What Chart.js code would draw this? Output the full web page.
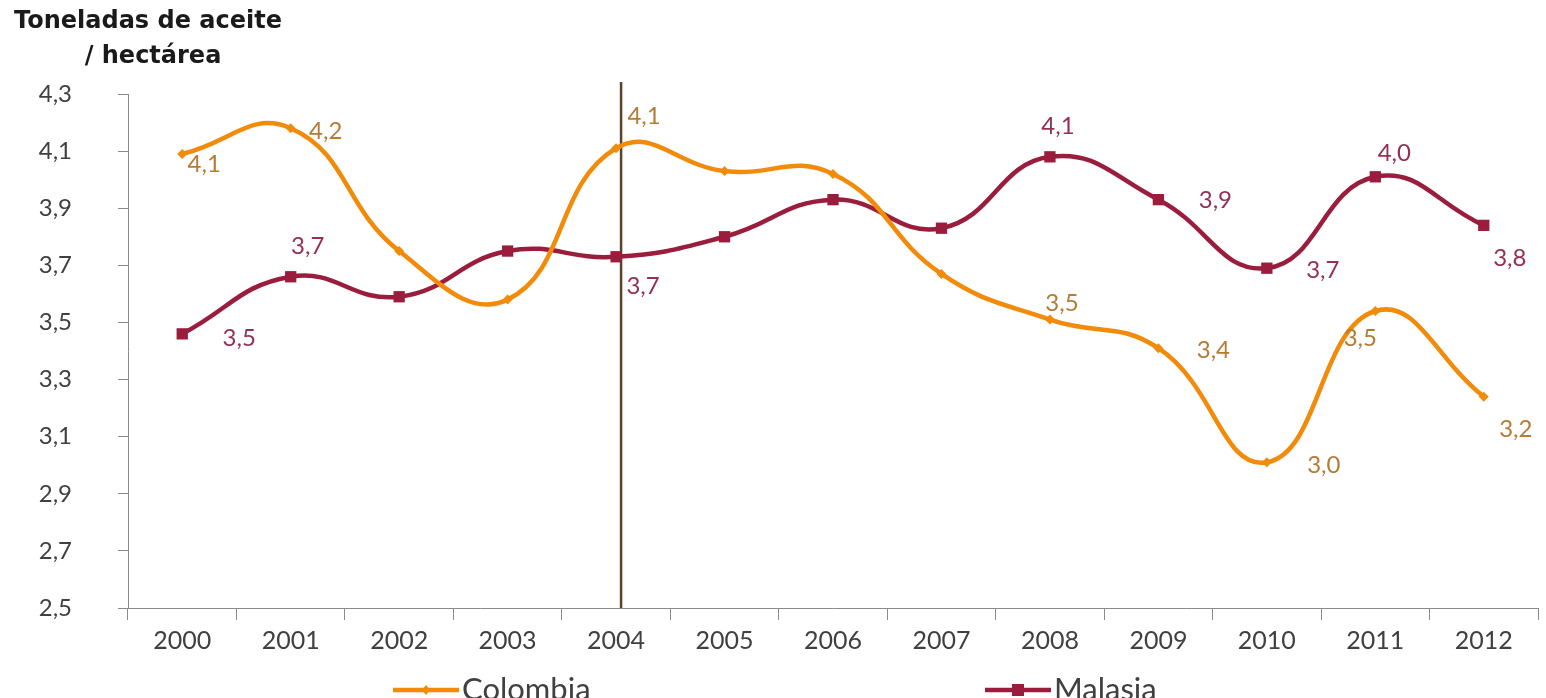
<!DOCTYPE html>
<html>
<head>
<meta charset="utf-8">
<script src="https://cdn.jsdelivr.net/npm/chart.js@4.4.0/dist/chart.umd.min.js"></script>
<style>
  html, body { margin: 0; padding: 0; background: #fff; overflow: hidden; }
  canvas { display: block; }
</style>
</head>
<body>
<canvas id="chart" width="1546" height="708"></canvas>
<script>
// Datos
const years = ['2000', '2001', '2002', '2003', '2004', '2005', '2006', '2007', '2008', '2009', '2010', '2011', '2012'];
const colombia = [4.09, 4.18, 3.75, 3.58, 4.11, 4.03, 4.02, 3.67, 3.51, 3.41, 3.01, 3.54, 3.24];
const malasia = [3.46, 3.66, 3.59, 3.75, 3.73, 3.80, 3.93, 3.83, 4.08, 3.93, 3.69, 4.01, 3.84];
const yTicks = [2.5, 2.7, 2.9, 3.1, 3.3, 3.5, 3.7, 3.9, 4.1, 4.3];
const labelledYears = ['2000', '2001', '2004', '2008', '2009', '2010', '2011', '2012'];
const markerYear = '2004';

// Colores
const ORANGE = '#F28A0A';
const ORANGE_TXT = '#B57B35';
const WINE = '#9B1D3E';
const WINE_TXT = '#953055';
const AXIS = '#8a8a8a';
const TXT = '#404040';

// Desplazamiento de cada etiqueta respecto a su punto (dx, dy)
const labelOffsets = [
  { '2000': [22, 10], '2001': [35, 3], '2004': [28, -32], '2008': [12, -16], '2009': [55, 2], '2010': [57, 3], '2011': [-15, 27], '2012': [32, 33] },
  { '2000': [57, 4], '2001': [17, -30], '2004': [27, 29], '2008': [8, -31], '2009': [57, 1], '2010': [56, 2], '2011': [19, -24], '2012': [26, 33] }
];
const labelColors = [ORANGE_TXT, WINE_TXT];

function fmt(v) { return v.toFixed(1).replace('.', ','); }

function drawMarker(ctx, x, y, square, color) {
  ctx.fillStyle = color;
  if (square) {
    ctx.fillRect(x - 6, y - 6, 12, 12);
  } else {
    ctx.beginPath();
    ctx.moveTo(x, y - 5); ctx.lineTo(x + 4, y); ctx.lineTo(x, y + 5); ctx.lineTo(x - 4, y);
    ctx.closePath(); ctx.fill();
  }
}

const titlePlugin = {
  id: 'sideTitle',
  afterDraw(chart) {
    const ctx = chart.ctx;
    ctx.save();
    ctx.fillStyle = '#1a1a1a';
    ctx.font = 'bold 24px "DejaVu Sans"';
    ctx.textAlign = 'center';
    ctx.textBaseline = 'middle';
    ctx.fillText('Toneladas de aceite', 148, 22);
    ctx.fillText('/ hectárea', 153, 57);
    ctx.restore();
  }
};

// Leyenda con línea + marcador, como en el original
const legendPlugin = {
  id: 'lineLegend',
  afterDraw(chart) {
    const ctx = chart.ctx;
    const y = 690;
    const starts = [393, 985];
    ctx.save();
    ctx.font = '31px Lato';
    ctx.textBaseline = 'middle';
    ctx.textAlign = 'left';
    chart.data.datasets.forEach((ds, i) => {
      const x0 = starts[i];
      ctx.strokeStyle = ds.borderColor;
      ctx.lineWidth = 4.5;
      ctx.beginPath(); ctx.moveTo(x0, y); ctx.lineTo(x0 + 66, y); ctx.stroke();
      drawMarker(ctx, x0 + 33, y, ds.pointStyle === 'rect', ds.borderColor);
      ctx.fillStyle = TXT;
      ctx.fillText(ds.label, x0 + 69, y);
    });
    ctx.restore();
  }
};

const vLinePlugin = {
  id: 'vLine',
  beforeDatasetsDraw(chart) {
    const x = chart.scales.x.getPixelForValue(years.indexOf(markerYear)) + 5;
    const ctx = chart.ctx;
    ctx.save();
    ctx.strokeStyle = '#5d4225';
    ctx.lineWidth = 2.5;
    ctx.beginPath();
    ctx.moveTo(x, chart.chartArea.top - 12);
    ctx.lineTo(x, chart.chartArea.bottom);
    ctx.stroke();
    ctx.restore();
  }
};

const valueLabels = {
  id: 'valueLabels',
  afterDatasetsDraw(chart) {
    const ctx = chart.ctx;
    ctx.save();
    ctx.font = '24px Lato';
    ctx.textAlign = 'center';
    ctx.textBaseline = 'middle';
    chart.data.datasets.forEach((ds, di) => {
      const meta = chart.getDatasetMeta(di);
      labelledYears.forEach(y => {
        const i = years.indexOf(y);
        const pt = meta.data[i];
        const off = labelOffsets[di][y];
        ctx.fillStyle = labelColors[di];
        ctx.fillText(fmt(ds.data[i]), pt.x + off[0], pt.y + off[1]);
      });
    });
    ctx.restore();
  }
};

new Chart(document.getElementById('chart'), {
  type: 'line',
  data: {
    labels: years,
    datasets: [
      {
        label: 'Colombia',
        data: colombia,
        borderColor: ORANGE,
        backgroundColor: ORANGE,
        borderWidth: 4.5,
        pointStyle: 'rectRot',
        pointRadius: 5,
        pointBorderWidth: 0,
        tension: 0.45
      },
      {
        label: 'Malasia',
        data: malasia,
        borderColor: WINE,
        backgroundColor: WINE,
        borderWidth: 4.5,
        pointStyle: 'rect',
        pointRadius: 8,
        pointBorderWidth: 0,
        tension: 0.45
      }
    ]
  },
  options: {
    responsive: false,
    animation: false,
    layout: { padding: { top: 94, right: 0, left: 0, bottom: 46 } },
    plugins: {
      tooltip: { enabled: false },
      legend: { display: false }
    },
    scales: {
      x: {
        offset: true,
        afterFit(scale) { scale.paddingRight = 0; scale.paddingLeft = 0; },
        grid: { offset: true, drawOnChartArea: false, drawTicks: true, tickLength: 12, color: AXIS },
        border: { color: AXIS, width: 1 },
        ticks: { color: TXT, font: { family: 'Lato', size: 25 }, padding: 6, maxRotation: 0 }
      },
      y: {
        min: 2.5,
        max: 4.3,
        afterBuildTicks(scale) { scale.ticks = yTicks.map(v => ({ value: v })); },
        afterFit(scale) { scale.width = 128; },
        grid: { drawOnChartArea: false, drawTicks: true, tickLength: 10, color: AXIS },
        border: { color: AXIS, width: 1 },
        ticks: { color: TXT, font: { family: 'Lato', size: 24 }, padding: 46, autoSkip: false, callback: v => fmt(v) }
      }
    }
  },
  plugins: [titlePlugin, vLinePlugin, valueLabels, legendPlugin]
});
</script>
</body>
</html>
